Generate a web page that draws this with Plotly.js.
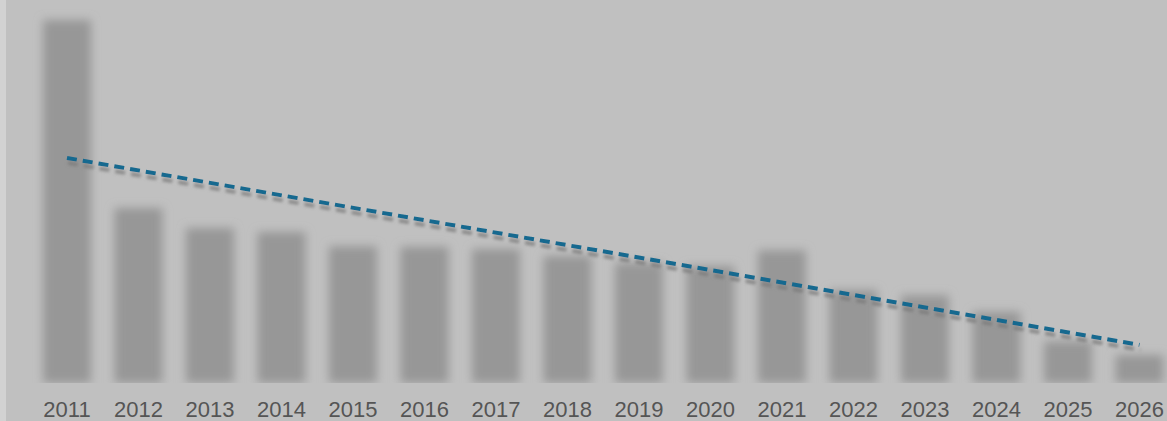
<!DOCTYPE html>
<html>
<head>
<meta charset="utf-8">
<script src="https://cdn.plot.ly/plotly-3.0.1.min.js"></script>
<style>
  html, body { margin: 0; padding: 0; background: #d2d2d2; overflow: hidden; }
  #chart { position: absolute; left: 6px; top: 0; width: 1161px; height: 421px; }
</style>
</head>
<body>
<div id="chart"></div>
<script>
// Data (arbitrary units, 2011 = 100)
const years = [2011, 2012, 2013, 2014, 2015, 2016, 2017, 2018, 2019, 2020, 2021, 2022, 2023, 2024, 2025, 2026];
const values = [100, 48.2, 42.7, 41.6, 37.7, 37.5, 36.9, 35.0, 33.1, 32.2, 36.6, 25.6, 24.2, 19.6, 11.5, 7.7];
const trendYears = [2011, 2026];
const trendValues = [62.0, 10.5];
const tickLabels = years.map(String);

const bars = {
  type: 'bar',
  x: years,
  y: values,
  width: 0.67,
  marker: { color: '#979797', line: { width: 0 } },
  hoverinfo: 'skip',
  showlegend: false
};
const trend = {
  type: 'scatter',
  mode: 'lines',
  x: trendYears,
  y: trendValues,
  line: { color: '#18698f', width: 4, dash: '10px,6px' },
  hoverinfo: 'skip',
  showlegend: false
};

const layout = {
  width: 1161,
  height: 421,
  margin: { l: 0, r: 0, t: 0, b: 38 },
  paper_bgcolor: '#c0c0c0',
  plot_bgcolor: '#c0c0c0',
  xaxis: {
    range: [2010.147, 2026.385],
    tickmode: 'array',
    tickvals: years,
    ticktext: tickLabels,
    showgrid: false,
    zeroline: false,
    showline: false,
    ticks: '',
    ticklabelstandoff: 11,
    tickfont: { family: 'Liberation Sans, Arial, sans-serif', size: 22, color: '#555555' }
  },
  yaxis: {
    range: [0, 105.5],
    visible: false,
    showgrid: false,
    zeroline: false
  },
  showlegend: false
};

Plotly.newPlot('chart', [bars, trend], layout, { staticPlot: true, displayModeBar: false }).then(function (gd) {
  const NS = 'http://www.w3.org/2000/svg';
  const svg = gd.querySelector('svg.main-svg');
  let defs = svg.querySelector('defs');
  if (!defs) { defs = document.createElementNS(NS, 'defs'); svg.insertBefore(defs, svg.firstChild); }

  const blur = document.createElementNS(NS, 'filter');
  blur.setAttribute('id', 'barblur');
  blur.setAttribute('x', '-20%'); blur.setAttribute('y', '-20%');
  blur.setAttribute('width', '140%'); blur.setAttribute('height', '140%');
  const gb = document.createElementNS(NS, 'feGaussianBlur');
  gb.setAttribute('stdDeviation', '5');
  blur.appendChild(gb);
  defs.appendChild(blur);

  const sh = document.createElementNS(NS, 'filter');
  sh.setAttribute('id', 'lineshadow');
  sh.setAttribute('x', '-10%'); sh.setAttribute('y', '-30%');
  sh.setAttribute('width', '120%'); sh.setAttribute('height', '160%');
  const ds = document.createElementNS(NS, 'feDropShadow');
  ds.setAttribute('dx', '1'); ds.setAttribute('dy', '5');
  ds.setAttribute('stdDeviation', '1.6');
  ds.setAttribute('flood-color', '#7a7a7a');
  ds.setAttribute('flood-opacity', '0.75');
  sh.appendChild(ds);
  defs.appendChild(sh);

  gd.querySelectorAll('.barlayer .trace').forEach(function (g) { g.setAttribute('filter', 'url(#barblur)'); });
  gd.querySelectorAll('.scatterlayer .trace').forEach(function (g) { g.setAttribute('filter', 'url(#lineshadow)'); });
});
</script>
</body>
</html>
